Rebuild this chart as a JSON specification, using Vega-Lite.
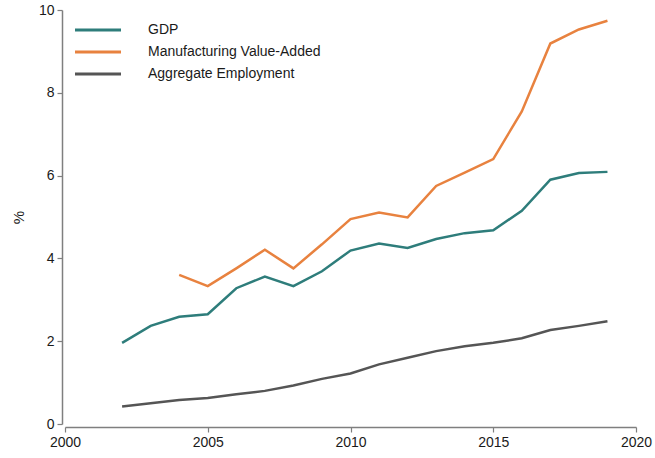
{
  "$schema": "https://vega.github.io/schema/vega-lite/v6.json",
  "width": 571,
  "height": 414,
  "autosize": {"type": "none"},
  "padding": {"left": 65, "top": 10, "right": 19, "bottom": 34},
  "background": "white",
  "config": {
    "view": {"stroke": null},
    "font": "Liberation Sans",
    "axis": {"grid": false, "domainColor": "#7f7f7f", "tickColor": "#7f7f7f", "labelColor": "#1a1a1a", "labelFontSize": 14, "titleFontSize": 15, "titleFontWeight": "normal", "titleColor": "#1a1a1a", "domainWidth": 1.5, "tickWidth": 1.2, "labelFlush": false, "labelOverlap": false}
  },
  "data": {"values": [
    {"year": 2002, "series": "GDP", "v": 1.96},
    {"year": 2003, "series": "GDP", "v": 2.37},
    {"year": 2004, "series": "GDP", "v": 2.59},
    {"year": 2005, "series": "GDP", "v": 2.65},
    {"year": 2006, "series": "GDP", "v": 3.28},
    {"year": 2007, "series": "GDP", "v": 3.56},
    {"year": 2008, "series": "GDP", "v": 3.33},
    {"year": 2009, "series": "GDP", "v": 3.69},
    {"year": 2010, "series": "GDP", "v": 4.19},
    {"year": 2011, "series": "GDP", "v": 4.36},
    {"year": 2012, "series": "GDP", "v": 4.25},
    {"year": 2013, "series": "GDP", "v": 4.47},
    {"year": 2014, "series": "GDP", "v": 4.61},
    {"year": 2015, "series": "GDP", "v": 4.68},
    {"year": 2016, "series": "GDP", "v": 5.15},
    {"year": 2017, "series": "GDP", "v": 5.90},
    {"year": 2018, "series": "GDP", "v": 6.06},
    {"year": 2019, "series": "GDP", "v": 6.09},
    {"year": 2004, "series": "Manufacturing Value-Added", "v": 3.60},
    {"year": 2005, "series": "Manufacturing Value-Added", "v": 3.33},
    {"year": 2006, "series": "Manufacturing Value-Added", "v": 3.76},
    {"year": 2007, "series": "Manufacturing Value-Added", "v": 4.21},
    {"year": 2008, "series": "Manufacturing Value-Added", "v": 3.76},
    {"year": 2009, "series": "Manufacturing Value-Added", "v": 4.34},
    {"year": 2010, "series": "Manufacturing Value-Added", "v": 4.95},
    {"year": 2011, "series": "Manufacturing Value-Added", "v": 5.11},
    {"year": 2012, "series": "Manufacturing Value-Added", "v": 4.99},
    {"year": 2013, "series": "Manufacturing Value-Added", "v": 5.75},
    {"year": 2014, "series": "Manufacturing Value-Added", "v": 6.07},
    {"year": 2015, "series": "Manufacturing Value-Added", "v": 6.40},
    {"year": 2016, "series": "Manufacturing Value-Added", "v": 7.55},
    {"year": 2017, "series": "Manufacturing Value-Added", "v": 9.19},
    {"year": 2018, "series": "Manufacturing Value-Added", "v": 9.53},
    {"year": 2019, "series": "Manufacturing Value-Added", "v": 9.74},
    {"year": 2002, "series": "Aggregate Employment", "v": 0.42},
    {"year": 2003, "series": "Aggregate Employment", "v": 0.50},
    {"year": 2004, "series": "Aggregate Employment", "v": 0.58},
    {"year": 2005, "series": "Aggregate Employment", "v": 0.63},
    {"year": 2006, "series": "Aggregate Employment", "v": 0.72},
    {"year": 2007, "series": "Aggregate Employment", "v": 0.80},
    {"year": 2008, "series": "Aggregate Employment", "v": 0.93},
    {"year": 2009, "series": "Aggregate Employment", "v": 1.09},
    {"year": 2010, "series": "Aggregate Employment", "v": 1.22},
    {"year": 2011, "series": "Aggregate Employment", "v": 1.44},
    {"year": 2012, "series": "Aggregate Employment", "v": 1.60},
    {"year": 2013, "series": "Aggregate Employment", "v": 1.76},
    {"year": 2014, "series": "Aggregate Employment", "v": 1.88},
    {"year": 2015, "series": "Aggregate Employment", "v": 1.96},
    {"year": 2016, "series": "Aggregate Employment", "v": 2.07},
    {"year": 2017, "series": "Aggregate Employment", "v": 2.27},
    {"year": 2018, "series": "Aggregate Employment", "v": 2.37},
    {"year": 2019, "series": "Aggregate Employment", "v": 2.48}
  ]},
  "mark": {"type": "line", "strokeWidth": 2.5},
  "encoding": {
    "x": {"field": "year", "type": "quantitative", "scale": {"domain": [2000, 2020], "nice": false, "zero": false},
      "axis": {"title": null, "values": [2000, 2005, 2010, 2015, 2020], "format": "d", "offset": 3, "tickSize": 5, "labelPadding": 3}},
    "y": {"field": "v", "type": "quantitative", "scale": {"domain": [0, 10], "nice": false},
      "axis": {"title": "%", "values": [0, 2, 4, 6, 8, 10], "offset": 3, "tickSize": 5, "labelPadding": 3, "titlePadding": 12}},
    "color": {"field": "series", "type": "nominal",
      "scale": {"domain": ["GDP", "Manufacturing Value-Added", "Aggregate Employment"], "range": ["#2e7d7b", "#e8823f", "#555555"]},
      "legend": {"title": null, "orient": "none", "legendX": 20, "legendY": 7, "symbolType": "M-2,0H2", "symbolSize": 529, "symbolStrokeWidth": 3, "labelFontSize": 14, "labelColor": "#1a1a1a", "labelOffset": 37, "labelLimit": 400, "rowPadding": 2}
    }
  }
}
